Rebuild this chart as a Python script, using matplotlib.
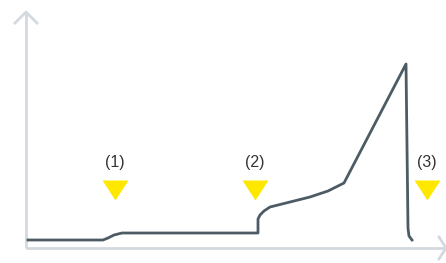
import matplotlib
matplotlib.use("Agg")
import matplotlib.pyplot as plt

# curve (x right of y axis, y above x axis)
curve_x = [2, 77, 82, 88, 96, 232, 232, 234, 238, 244, 264, 284, 302, 318, 380, 382, 383, 386]
curve_y = [8, 8, 10, 13, 15, 15, 29, 33, 37, 41, 46, 51, 57, 65, 184, 20, 12, 8]

# event markers and labels
event_labels = ["(1)", "(2)", "(3)"]
event_x = [89, 229, 401]
event_y = 58
label_y = 85

axis_col = "#d3d9de"
line_col = "#4d5c64"
yellow = "#ffe800"

plt.rcParams["font.family"] = ["Liberation Sans", "DejaVu Sans"]

fig = plt.figure(figsize=(4.46, 2.63), dpi=100)
ax = fig.add_axes([0, 0, 1, 1])
ax.set_xlim(-26, 420)
ax.set_ylim(-15, 248)
ax.axis("off")

# axes with open arrow heads
ax.plot([0, 0], [0, 236], color=axis_col, lw=2, solid_capstyle="butt")
ax.plot([-11, 0, 11], [225, 236, 225], color=axis_col, lw=2)
ax.plot([0, 419], [0, 0], color=axis_col, lw=2, solid_capstyle="butt")
ax.plot([413, 420, 413], [11, 0, -11], color=axis_col, lw=2)

ax.plot(curve_x, curve_y, color=line_col, lw=2, solid_joinstyle="round")

tri = [(-1, 0.77), (1, 0.77), (0, -0.77)]
for lab, x in zip(event_labels, event_x):
    ax.plot([x], [event_y], marker=tri, markersize=18.7, color=yellow, mec="none")
    ax.text(x, label_y, lab, ha="center", va="center", fontsize=11.5, color="#333333")

fig.savefig("out.png", dpi=100)
